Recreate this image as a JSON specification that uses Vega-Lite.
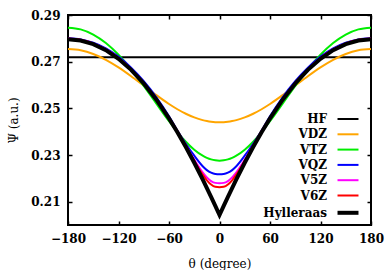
{
  "$schema": "https://vega.github.io/schema/vega-lite/v6.json",
  "width": 303,
  "height": 210,
  "autosize": "none",
  "padding": {"left": 68, "top": 15, "right": 14, "bottom": 45},
  "background": "white",
  "config": {
    "font": "DejaVu Serif",
    "view": {"stroke": "black", "strokeWidth": 2},
    "axis": {
      "grid": false, "domain": false, "tickColor": "black", "tickWidth": 1.5, "tickSize": -4, "labelOverlap": false, "labelFlush": false,
      "labelFont": "DejaVu Serif", "labelFontWeight": "bold", "labelFontSize": 12, "labelColor": "black", "labelPadding": 12,
      "titleFont": "DejaVu Serif", "titleFontWeight": "normal", "titleFontSize": 12, "titleColor": "black"
    },
    "legend": {
      "orient": "bottom-right", "offset": 4, "padding": 0,
      "labelFont": "DejaVu Serif", "labelFontWeight": "bold", "labelFontSize": 12, "labelColor": "black",
      "labelAlign": "right", "labelOffset": -27, "symbolType": "stroke", "symbolSize": 440, "rowPadding": 3.3
    }
  },
  "data": {"values": [
    {"theta": -180, "HF": 0.2719, "VDZ": 0.2754, "VTZ": 0.28457, "VQZ": 0.2800, "V5Z": 0.2799, "V6Z": 0.2798, "Hylleraas": 0.2796},
    {"theta": -165, "HF": 0.2719, "VDZ": 0.27487, "VTZ": 0.28384, "VQZ": 0.27953, "V5Z": 0.27938, "V6Z": 0.27928, "Hylleraas": 0.27908},
    {"theta": -150, "HF": 0.2719, "VDZ": 0.2733, "VTZ": 0.28163, "VQZ": 0.27813, "V5Z": 0.27783, "V6Z": 0.27773, "Hylleraas": 0.27753},
    {"theta": -135, "HF": 0.2719, "VDZ": 0.2708, "VTZ": 0.27799, "VQZ": 0.27572, "V5Z": 0.27522, "V6Z": 0.27512, "Hylleraas": 0.27492},
    {"theta": -120, "HF": 0.2719, "VDZ": 0.26755, "VTZ": 0.27297, "VQZ": 0.27215, "V5Z": 0.27155, "V6Z": 0.27145, "Hylleraas": 0.27125},
    {"theta": -105, "HF": 0.2719, "VDZ": 0.26376, "VTZ": 0.26674, "VQZ": 0.2674, "V5Z": 0.2668, "V6Z": 0.2667, "Hylleraas": 0.2665},
    {"theta": -90, "HF": 0.2719, "VDZ": 0.2597, "VTZ": 0.2596, "VQZ": 0.2616, "V5Z": 0.26095, "V6Z": 0.26085, "Hylleraas": 0.26065},
    {"theta": -75, "HF": 0.2719, "VDZ": 0.25564, "VTZ": 0.25199, "VQZ": 0.25473, "V5Z": 0.25401, "V6Z": 0.25391, "Hylleraas": 0.25371},
    {"theta": -60, "HF": 0.2719, "VDZ": 0.25185, "VTZ": 0.24447, "VQZ": 0.2466, "V5Z": 0.24607, "V6Z": 0.2459, "Hylleraas": 0.2457},
    {"theta": -50, "HF": 0.2719, "VDZ": 0.24961, "VTZ": 0.23982, "VQZ": 0.2404, "V5Z": 0.24025, "V6Z": 0.24005, "Hylleraas": 0.23978},
    {"theta": -40, "HF": 0.2719, "VDZ": 0.24767, "VTZ": 0.2357, "VQZ": 0.2348, "V5Z": 0.23416, "V6Z": 0.23385, "Hylleraas": 0.23343},
    {"theta": -30, "HF": 0.2719, "VDZ": 0.2461, "VTZ": 0.23227, "VQZ": 0.2297, "V5Z": 0.22806, "V6Z": 0.22752, "Hylleraas": 0.22667},
    {"theta": -20, "HF": 0.2719, "VDZ": 0.24495, "VTZ": 0.2297, "VQZ": 0.22517, "V5Z": 0.22257, "V6Z": 0.22161, "Hylleraas": 0.21953},
    {"theta": -15, "HF": 0.2719, "VDZ": 0.24454, "VTZ": 0.22878, "VQZ": 0.22351, "V5Z": 0.22039, "V6Z": 0.21916, "Hylleraas": 0.21583},
    {"theta": -10, "HF": 0.2719, "VDZ": 0.24424, "VTZ": 0.22811, "VQZ": 0.22241, "V5Z": 0.21884, "V6Z": 0.21736, "Hylleraas": 0.21206},
    {"theta": -5, "HF": 0.2719, "VDZ": 0.24406, "VTZ": 0.22771, "VQZ": 0.22188, "V5Z": 0.21805, "V6Z": 0.21639, "Hylleraas": 0.20821},
    {"theta": 0, "HF": 0.2719, "VDZ": 0.244, "VTZ": 0.22757, "VQZ": 0.2218, "V5Z": 0.2179, "V6Z": 0.2162, "Hylleraas": 0.2043},
    {"theta": 5, "HF": 0.2719, "VDZ": 0.24406, "VTZ": 0.22771, "VQZ": 0.22188, "V5Z": 0.21805, "V6Z": 0.21639, "Hylleraas": 0.20821},
    {"theta": 10, "HF": 0.2719, "VDZ": 0.24424, "VTZ": 0.22811, "VQZ": 0.22241, "V5Z": 0.21884, "V6Z": 0.21736, "Hylleraas": 0.21206},
    {"theta": 15, "HF": 0.2719, "VDZ": 0.24454, "VTZ": 0.22878, "VQZ": 0.22351, "V5Z": 0.22039, "V6Z": 0.21916, "Hylleraas": 0.21583},
    {"theta": 20, "HF": 0.2719, "VDZ": 0.24495, "VTZ": 0.2297, "VQZ": 0.22517, "V5Z": 0.22257, "V6Z": 0.22161, "Hylleraas": 0.21953},
    {"theta": 30, "HF": 0.2719, "VDZ": 0.2461, "VTZ": 0.23227, "VQZ": 0.2297, "V5Z": 0.22806, "V6Z": 0.22752, "Hylleraas": 0.22667},
    {"theta": 40, "HF": 0.2719, "VDZ": 0.24767, "VTZ": 0.2357, "VQZ": 0.2348, "V5Z": 0.23416, "V6Z": 0.23385, "Hylleraas": 0.23343},
    {"theta": 50, "HF": 0.2719, "VDZ": 0.24961, "VTZ": 0.23982, "VQZ": 0.2404, "V5Z": 0.24025, "V6Z": 0.24005, "Hylleraas": 0.23978},
    {"theta": 60, "HF": 0.2719, "VDZ": 0.25185, "VTZ": 0.24447, "VQZ": 0.2466, "V5Z": 0.24607, "V6Z": 0.2459, "Hylleraas": 0.2457},
    {"theta": 75, "HF": 0.2719, "VDZ": 0.25564, "VTZ": 0.25199, "VQZ": 0.25473, "V5Z": 0.25401, "V6Z": 0.25391, "Hylleraas": 0.25371},
    {"theta": 90, "HF": 0.2719, "VDZ": 0.2597, "VTZ": 0.2596, "VQZ": 0.2616, "V5Z": 0.26095, "V6Z": 0.26085, "Hylleraas": 0.26065},
    {"theta": 105, "HF": 0.2719, "VDZ": 0.26376, "VTZ": 0.26674, "VQZ": 0.2674, "V5Z": 0.2668, "V6Z": 0.2667, "Hylleraas": 0.2665},
    {"theta": 120, "HF": 0.2719, "VDZ": 0.26755, "VTZ": 0.27297, "VQZ": 0.27215, "V5Z": 0.27155, "V6Z": 0.27145, "Hylleraas": 0.27125},
    {"theta": 135, "HF": 0.2719, "VDZ": 0.2708, "VTZ": 0.27799, "VQZ": 0.27572, "V5Z": 0.27522, "V6Z": 0.27512, "Hylleraas": 0.27492},
    {"theta": 150, "HF": 0.2719, "VDZ": 0.2733, "VTZ": 0.28163, "VQZ": 0.27813, "V5Z": 0.27783, "V6Z": 0.27773, "Hylleraas": 0.27753},
    {"theta": 165, "HF": 0.2719, "VDZ": 0.27487, "VTZ": 0.28384, "VQZ": 0.27953, "V5Z": 0.27938, "V6Z": 0.27928, "Hylleraas": 0.27908},
    {"theta": 180, "HF": 0.2719, "VDZ": 0.2754, "VTZ": 0.28457, "VQZ": 0.2800, "V5Z": 0.2799, "V6Z": 0.2798, "Hylleraas": 0.2796}
  ]},
  "transform": [{"fold": ["HF", "VDZ", "VTZ", "VQZ", "V5Z", "V6Z", "Hylleraas"], "as": ["series", "psi"]}],
  "layer": [
    {
      "transform": [{"filter": "datum.series !== 'Hylleraas'"}],
      "mark": {"type": "line", "interpolate": "monotone", "strokeWidth": 2},
      "encoding": {
        "x": {"field": "theta", "type": "quantitative", "scale": {"domain": [-180, 180], "nice": false},
              "axis": {"orient": "bottom", "values": [-180, -120, -60, 0, 60, 120, 180], "title": "θ (degree)", "titlePadding": 14}},
        "y": {"field": "psi", "type": "quantitative", "scale": {"domain": [0.2, 0.29], "nice": false, "zero": false},
              "axis": {"orient": "left", "values": [0.21, 0.23, 0.25, 0.27, 0.29], "format": ".2f", "title": "Ψ (a.u.)", "titlePadding": 10}},
        "color": {"field": "series", "type": "nominal",
                  "scale": {"domain": ["HF", "VDZ", "VTZ", "VQZ", "V5Z", "V6Z", "Hylleraas"],
                            "range": ["#000000", "#FFA500", "#00EE00", "#0000FF", "#FF00FF", "#FF0000", "#000000"]},
                  "legend": {"title": null,
                             "encode": {"symbols": {"update": {"strokeWidth": {"signal": "datum.value === 'Hylleraas' ? 4 : 2"}}}}}}
      }
    },
    {
      "transform": [{"filter": "datum.series === 'Hylleraas'"}],
      "mark": {"type": "line", "interpolate": "linear", "strokeWidth": 4},
      "encoding": {
        "x": {"field": "theta", "type": "quantitative", "axis": null},
        "y": {"field": "psi", "type": "quantitative", "axis": null},
        "color": {"field": "series", "type": "nominal"}
      }
    },
    {
      "mark": {"type": "point", "opacity": 0},
      "encoding": {
        "x": {"field": "theta", "type": "quantitative",
              "axis": {"orient": "top", "labels": false, "title": null, "values": [-180, -120, -60, 0, 60, 120, 180]}},
        "y": {"field": "psi", "type": "quantitative",
              "axis": {"orient": "right", "labels": false, "title": null, "values": [0.21, 0.23, 0.25, 0.27, 0.29]}}
      }
    }
  ],
  "resolve": {"axis": {"x": "independent", "y": "independent"}}
}
